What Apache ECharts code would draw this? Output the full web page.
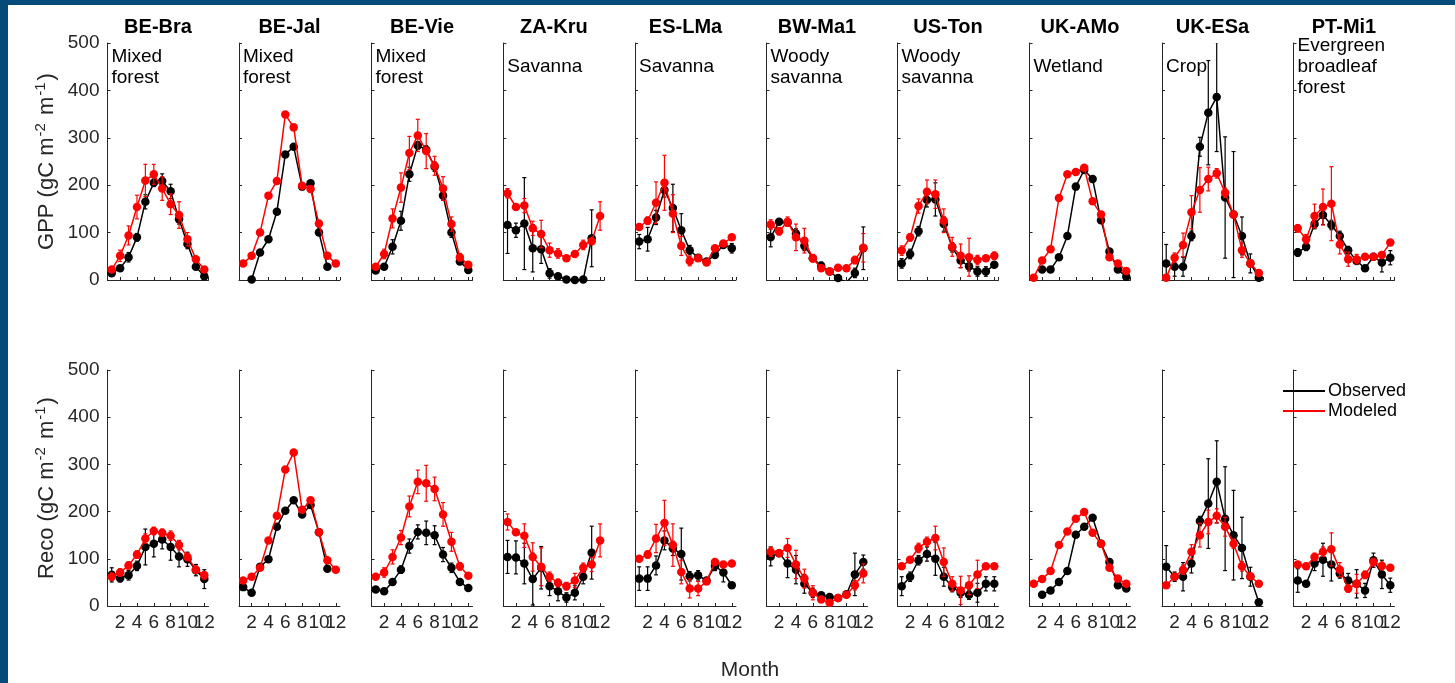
<!DOCTYPE html>
<html>
<head>
<meta charset="utf-8">
<script src="https://cdn.jsdelivr.net/npm/echarts@6/dist/echarts.min.js"></script>
<style>
  html, body { margin: 0; padding: 0; background: #fff; }
  #chart { width: 1455px; height: 683px; }
</style>
</head>
<body>
<div id="chart"></div>
<script>
const months = [1, 2, 3, 4, 5, 6, 7, 8, 9, 10, 11, 12];
const monthTicks = [2, 4, 6, 8, 10, 12];
const sites = ['BE-Bra', 'BE-Jal', 'BE-Vie', 'ZA-Kru', 'ES-LMa', 'BW-Ma1', 'US-Ton', 'UK-AMo', 'UK-ESa', 'PT-Mi1'];
const biomes = ['Mixed\nforest', 'Mixed\nforest', 'Mixed\nforest', 'Savanna', 'Savanna',
  'Woody\nsavanna', 'Woody\nsavanna', 'Wetland', 'Crop', 'Evergreen\nbroadleaf\nforest'];

// GPP, one row per site, Jan..Dec
const gppObs = [
  [14, 25, 48, 90, 165, 205, 209, 187, 128, 76, 28, 8],
  [null, 1, 58, 86, 144, 265, 281, 197, 204, 100, 28, null],
  [20, 28, 70, 125, 223, 284, 275, 239, 178, 100, 39, 21],
  [116, 105, 119, 67, 65, 14, 8, 1, 0, 1, 88, null],
  [81, 86, 132, 190, 152, 105, 63, 47, 39, 53, 74, 67],
  [90, 123, 121, 98, 72, 46, 30, 18, 4, -5, 15, 67],
  [35, 55, 103, 169, 170, 118, 69, 41, 29, 18, 18, 32],
  [null, 22, 22, 48, 93, 197, 232, 213, 126, 60, 22, 7],
  [35, 28, 28, 93, 281, 353, 386, 174, 138, 93, 35, 5],
  [58, 70, 118, 137, 116, 93, 63, 40, 25, 49, 37, 47]
];
const gppMod = [
  [22, 51, 94, 154, 210, 223, 193, 160, 137, 86, 44, 22],
  [35, 51, 100, 178, 209, 349, 322, 199, 192, 119, 51, 35],
  [28, 55, 130, 195, 268, 305, 272, 241, 193, 118, 48, 32],
  [183, 154, 157, 109, 97, 63, 56, 46, 55, 74, 82, 135],
  [112, 125, 163, 205, 140, 72, 40, 46, 37, 67, 77, 90],
  [117, 103, 123, 90, 83, 46, 25, 18, 26, 25, 42, 68],
  [62, 90, 156, 186, 181, 125, 70, 51, 48, 42, 46, 51],
  [5, 41, 65, 173, 223, 228, 237, 166, 138, 48, 35, 19],
  [5, 47, 74, 143, 190, 213, 225, 184, 138, 63, 35, 15],
  [109, 86, 135, 154, 161, 75, 44, 44, 49, 49, 53, 79]
];
const gppObsErr = [
  [5, 5, 10, 8, 15, 8, 15, 15, 10, 10, 5, 5],
  [0, 0, 0, 0, 0, 0, 0, 0, 0, 0, 0, 0],
  [5, 5, 15, 20, 15, 8, 8, 10, 10, 10, 5, 5],
  [60, 15, 97, 50, 30, 10, 5, 0, 5, 0, 60, 0],
  [15, 25, 15, 15, 50, 35, 10, 5, 5, 5, 5, 10],
  [20, 5, 5, 10, 10, 5, 8, 5, 5, 0, 10, 45],
  [10, 10, 10, 15, 35, 15, 10, 15, 10, 10, 10, 5],
  [0, 0, 0, 0, 0, 0, 0, 0, 0, 0, 0, 0],
  [40, 20, 20, 10, 20, 110, 115, 128, 133, 40, 20, 5],
  [8, 8, 10, 20, 10, 10, 8, 5, 5, 5, 20, 15]
];
const gppModErr = [
  [5, 12, 20, 25, 34, 21, 25, 22, 28, 14, 5, 5],
  [0, 0, 0, 0, 0, 0, 0, 0, 0, 0, 0, 0],
  [5, 10, 20, 31, 35, 34, 37, 20, 25, 15, 8, 5],
  [10, 5, 15, 15, 29, 15, 10, 5, 5, 10, 5, 30],
  [5, 8, 44, 58, 40, 20, 10, 5, 5, 5, 5, 5],
  [10, 8, 10, 28, 26, 8, 5, 5, 5, 5, 8, 30],
  [10, 8, 15, 25, 30, 25, 20, 25, 40, 10, 5, 8],
  [0, 0, 0, 0, 0, 0, 0, 0, 0, 0, 0, 0],
  [5, 10, 25, 35, 47, 25, 10, 10, 5, 15, 8, 5],
  [8, 10, 25, 38, 78, 20, 15, 10, 5, 5, 5, 5]
];

// Reco, one row per site, Jan..Dec
const recoObs = [
  [66, 59, 65, 85, 125, 132, 141, 125, 105, 99, 76, 57],
  [40, 28, 83, 99, 168, 202, 224, 194, 214, 156, 79, null],
  [35, 31, 51, 77, 127, 157, 155, 150, 109, 81, 51, 38],
  [104, 103, 90, 57, 81, 42, 31, 18, 28, 62, 113, null],
  [58, 58, 86, 139, 122, 110, 63, 65, 54, 85, 71, 44],
  [105, 112, 90, 77, 47, 28, 23, 19, 17, 25, 67, 93],
  [42, 62, 97, 110, 100, 62, 40, 28, 24, 28, 47, 47],
  [null, 24, 33, 51, 74, 151, 168, 187, 132, 93, 44, 37],
  [83, 62, 62, 90, 180, 217, 263, 185, 150, 123, 62, 8],
  [54, 47, 90, 98, 88, 69, 54, 47, 33, 97, 67, 44]
];
const recoMod = [
  [62, 71, 86, 109, 143, 159, 155, 149, 129, 104, 77, 65],
  [54, 62, 81, 139, 191, 289, 325, 204, 224, 156, 97, 77],
  [62, 71, 104, 145, 211, 263, 260, 248, 194, 136, 84, 64],
  [178, 156, 149, 104, 83, 62, 49, 42, 54, 81, 88, 139],
  [100, 109, 143, 176, 129, 72, 37, 37, 52, 93, 88, 90],
  [115, 112, 123, 88, 58, 28, 14, 7, 17, 24, 44, 69],
  [84, 98, 123, 136, 144, 93, 47, 33, 44, 67, 84, 84],
  [47, 57, 74, 129, 158, 185, 199, 155, 132, 81, 58, 47],
  [44, 62, 77, 115, 150, 178, 191, 168, 132, 84, 63, 47],
  [88, 84, 104, 115, 120, 77, 37, 47, 66, 93, 85, 81]
];
const recoObsErr = [
  [15, 8, 10, 10, 38, 28, 20, 28, 22, 15, 12, 20],
  [0, 0, 0, 0, 0, 0, 0, 0, 0, 0, 0, 0],
  [5, 5, 5, 8, 15, 15, 25, 20, 15, 10, 5, 5],
  [35, 35, 43, 55, 45, 20, 20, 10, 15, 15, 56, 0],
  [25, 25, 20, 20, 15, 55, 10, 10, 5, 10, 20, 5],
  [20, 5, 30, 30, 20, 10, 5, 5, 5, 5, 45, 15],
  [20, 10, 10, 15, 35, 20, 10, 10, 10, 20, 15, 15],
  [0, 0, 0, 0, 0, 0, 0, 0, 0, 0, 0, 0],
  [45, 10, 30, 20, 10, 95, 87, 110, 95, 65, 20, 5],
  [25, 5, 15, 35, 35, 10, 15, 30, 15, 15, 30, 15]
];
const recoModErr = [
  [8, 8, 8, 8, 10, 8, 8, 10, 10, 8, 8, 8],
  [0, 0, 0, 0, 0, 0, 0, 0, 0, 0, 0, 0],
  [5, 10, 15, 15, 22, 25, 38, 25, 25, 20, 8, 5],
  [17, 5, 25, 30, 40, 10, 8, 8, 15, 10, 15, 35],
  [5, 8, 30, 48, 45, 25, 20, 15, 5, 5, 5, 5],
  [10, 5, 20, 30, 20, 15, 5, 5, 5, 5, 10, 20],
  [5, 5, 10, 10, 25, 30, 15, 30, 20, 30, 5, 5],
  [0, 0, 0, 0, 0, 0, 0, 0, 0, 0, 0, 0],
  [5, 5, 10, 15, 25, 25, 15, 20, 10, 10, 5, 5],
  [5, 5, 8, 10, 35, 15, 8, 20, 8, 8, 8, 5]
];

const FONT = '"Liberation Sans", Arial, Helvetica, sans-serif';
const AXIS_COLOR = '#262626';
const OBS_COLOR = '#000000';
const MOD_COLOR = '#ff0000';

const colLeft = [107.5, 239, 371.5, 503.3, 635, 766.5, 897.5, 1029.5, 1162, 1293.5];
const colWidth = 101;
const rows = [
  { top: 43, height: 237, label: 'GPP', obs: gppObs, mod: gppMod, obsErr: gppObsErr, modErr: gppModErr },
  { top: 370, height: 236, label: 'Reco', obs: recoObs, mod: recoMod, obsErr: recoObsErr, modErr: recoModErr }
];

// a blank stop at the axis end takes the max-label slot, so echarts
// does not drop the crowded "10"/"12" labels
const AXIS_END = 12.5;
const labelStops = monthTicks.concat([AXIS_END]);

const errorBar = (color) => (params, api) => {
  const x = api.value(0), y = api.value(1), e = api.value(2);
  const hi = api.coord([x, y + e]);
  const lo = api.coord([x, y - e]);
  const style = { stroke: color, lineWidth: 1.2 };
  return {
    type: 'group',
    children: [
      { type: 'line', shape: { x1: hi[0], y1: hi[1], x2: lo[0], y2: lo[1] }, style },
      { type: 'line', shape: { x1: hi[0] - 2, y1: hi[1], x2: hi[0] + 2, y2: hi[1] }, style },
      { type: 'line', shape: { x1: lo[0] - 2, y1: lo[1], x2: lo[0] + 2, y2: lo[1] }, style }
    ]
  };
};

const pairs = (vals) => months.map((m, i) => [m, vals[i]]);
const errPairs = (vals, errs) => months
  .map((m, i) => [m, vals[i], errs[i]])
  .filter((d) => d[1] != null && d[2] > 0);

const grid = [], xAxis = [], yAxis = [], series = [];

rows.forEach((row, r) => {
  sites.forEach((site, c) => {
    const idx = grid.length;
    grid.push({ left: colLeft[c], top: row.top, width: colWidth, height: row.height });
    xAxis.push({
      gridIndex: idx, type: 'value', min: 0.5, max: AXIS_END,
      axisLine: { onZero: false, lineStyle: { color: AXIS_COLOR, width: 1 } },
      axisTick: { inside: true, length: 3, customValues: labelStops, lineStyle: { color: AXIS_COLOR } },
      axisLabel: {
        show: r === 1, customValues: labelStops, margin: 7,
        showMinLabel: true, showMaxLabel: false, hideOverlap: false,
        formatter: (v) => (v === AXIS_END ? '' : String(v)),
        fontFamily: FONT, fontSize: 19, color: AXIS_COLOR
      },
      splitLine: { show: false }
    });
    yAxis.push({
      gridIndex: idx, type: 'value', min: 0, max: 500, interval: 100,
      axisLine: { show: true, lineStyle: { color: AXIS_COLOR, width: 1 } },
      axisTick: { show: true, inside: true, length: 3, lineStyle: { color: AXIS_COLOR } },
      axisLabel: { show: c === 0, margin: 8, fontFamily: FONT, fontSize: 19, color: AXIS_COLOR },
      splitLine: { show: false },
      name: c === 0 ? `{a|${row.label} (gC m}{s|-2}{a| m}{s|-1}{a|)}` : '',
      nameLocation: 'middle', nameRotate: 90, nameGap: 48,
      nameTextStyle: {
        rich: {
          a: { fontFamily: FONT, fontSize: 22, color: AXIS_COLOR, lineHeight: 26 },
          s: { fontFamily: FONT, fontSize: 15, color: AXIS_COLOR, lineHeight: 26, verticalAlign: 'top', padding: [0, 2, 10, 1] }
        }
      }
    });
    series.push({
      type: 'custom', xAxisIndex: idx, yAxisIndex: idx, clip: true, z: 1,
      renderItem: errorBar(OBS_COLOR), data: errPairs(row.obs[c], row.obsErr[c])
    });
    series.push({
      name: 'Observed', type: 'line', xAxisIndex: idx, yAxisIndex: idx, z: 2,
      data: pairs(row.obs[c]), symbol: 'circle', symbolSize: 8.5,
      itemStyle: { color: OBS_COLOR }, lineStyle: { color: OBS_COLOR, width: 1.5 }
    });
    series.push({
      type: 'custom', xAxisIndex: idx, yAxisIndex: idx, clip: true, z: 3,
      renderItem: errorBar(MOD_COLOR), data: errPairs(row.mod[c], row.modErr[c])
    });
    series.push({
      name: 'Modeled', type: 'line', xAxisIndex: idx, yAxisIndex: idx, z: 4,
      data: pairs(row.mod[c]), symbol: 'circle', symbolSize: 8.5,
      itemStyle: { color: MOD_COLOR }, lineStyle: { color: MOD_COLOR, width: 1.5 }
    });
  });
});

const graphic = [
  { type: 'rect', left: 0, top: 0, shape: { width: 8, height: 683 }, style: { fill: '#054b7a' } },
  { type: 'rect', left: 0, top: 0, shape: { width: 1455, height: 5 }, style: { fill: '#054b7a' } },
  {
    type: 'text', x: 750, y: 670,
    style: { text: 'Month', fontFamily: FONT, fontSize: 21, fill: AXIS_COLOR, textAlign: 'center', textVerticalAlign: 'middle' }
  }
];
sites.forEach((site, c) => {
  graphic.push({
    type: 'text', x: colLeft[c] + colWidth / 2, y: 27,
    style: { text: site, fontFamily: FONT, fontSize: 20, fontWeight: 'bold', fill: '#000', textAlign: 'center', textVerticalAlign: 'middle' }
  });
  graphic.push({
    type: 'text', x: colLeft[c] + 4, y: 67,
    style: { text: biomes[c], fontFamily: FONT, fontSize: 19, lineHeight: 21, fill: '#000', textAlign: 'left', textVerticalAlign: 'middle' }
  });
});

const chart = echarts.init(document.getElementById('chart'));
chart.setOption({
  animation: false,
  backgroundColor: '#fff',
  grid, xAxis, yAxis, series, graphic,
  legend: {
    data: [
      { name: 'Observed', icon: 'rect' },
      { name: 'Modeled', icon: 'rect' }
    ],
    orient: 'vertical', left: 1283, top: 382, padding: 0,
    itemWidth: 42, itemHeight: 2, itemGap: 2,
    textStyle: { fontFamily: FONT, fontSize: 18, color: '#000', padding: [0, 0, 0, -2] },
    selectedMode: false
  }
});
</script>
</body>
</html>
